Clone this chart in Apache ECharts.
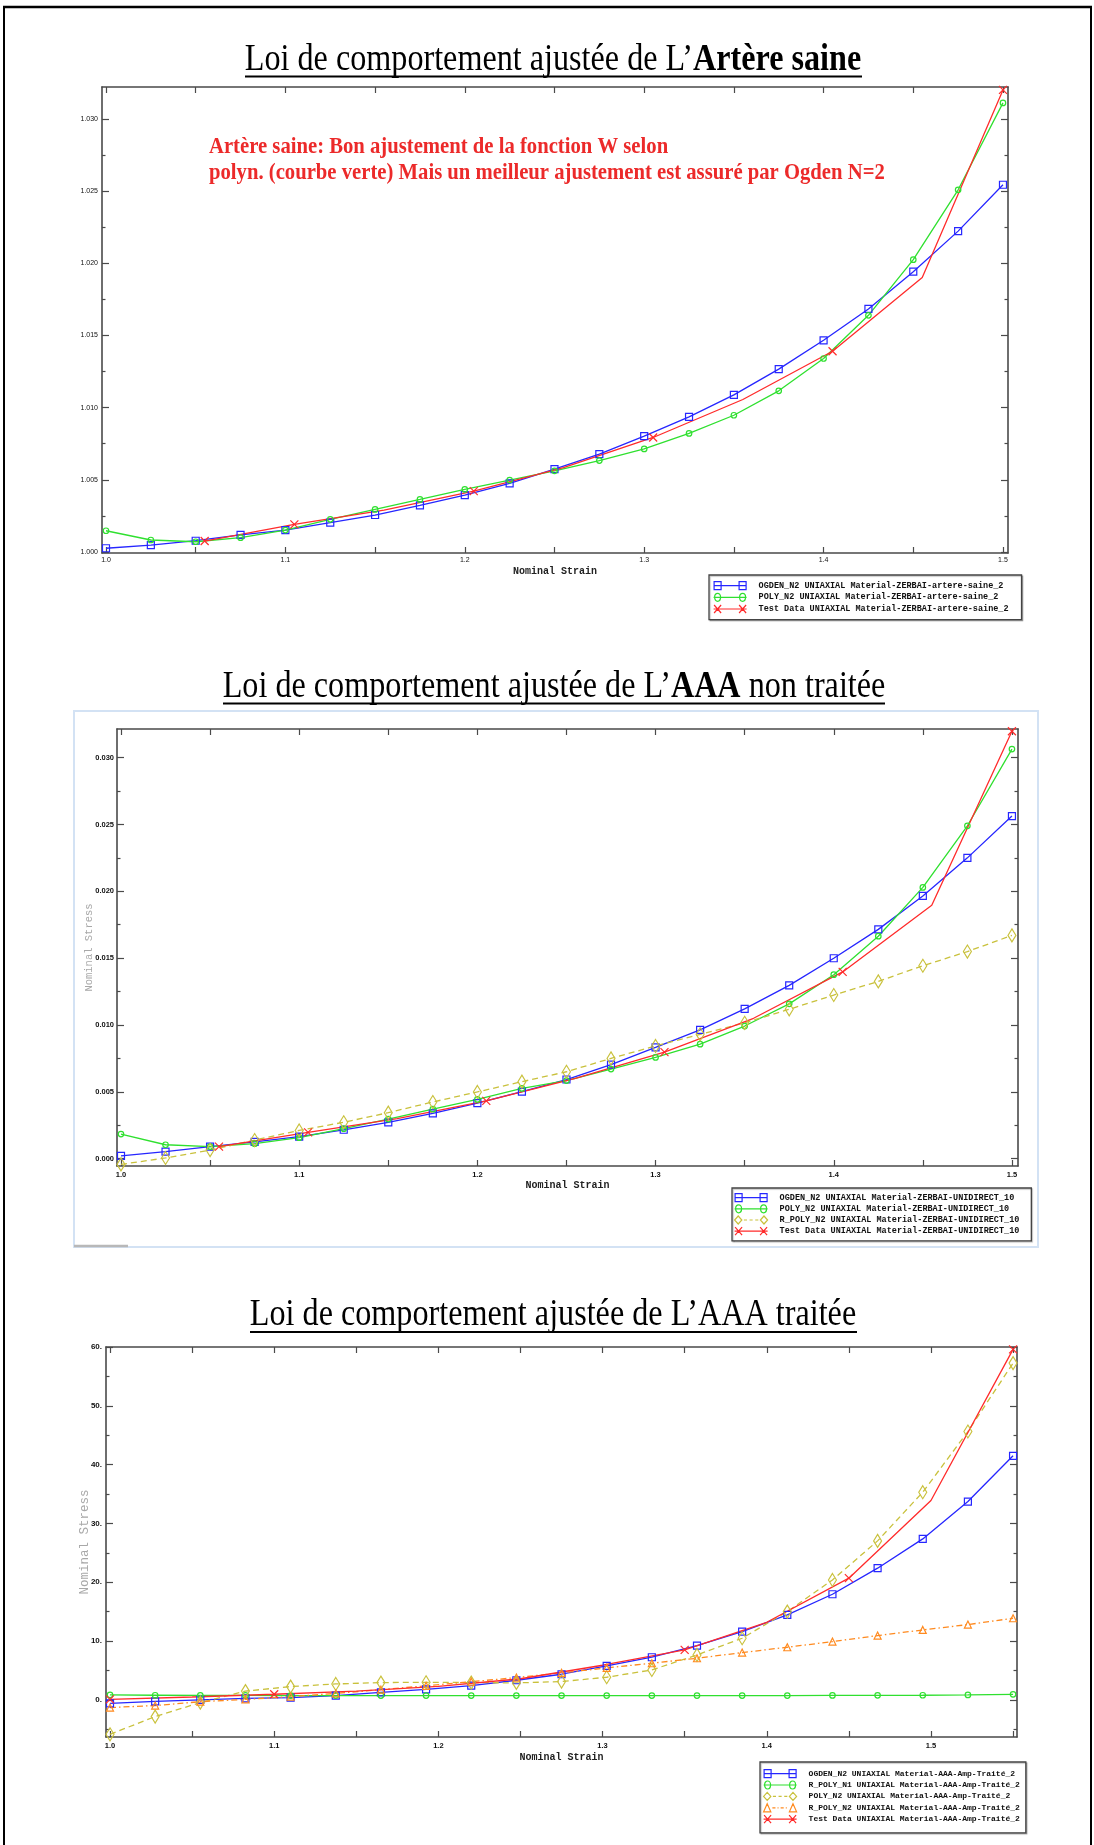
<!DOCTYPE html>
<html>
<head>
<meta charset="utf-8">
<script src="https://cdn.jsdelivr.net/npm/echarts@6/dist/echarts.min.js"></script>
<style>
  html, body { margin: 0; padding: 0; background: #fff; }
  #chart { width: 1094px; height: 1845px; }
</style>
</head>
<body>
<div id="chart"></div>
<script>
// ---------- strain samples ----------
const strainModel = [1.000, 1.025, 1.050, 1.075, 1.100, 1.125, 1.150, 1.175, 1.200, 1.225, 1.250,
                     1.275, 1.300, 1.325, 1.350, 1.375, 1.400, 1.425, 1.450, 1.475, 1.500];
const strainTest = [1.055, 1.105, 1.155, 1.205, 1.255, 1.305, 1.355, 1.405, 1.455, 1.500];
const strainTreated = [1.0000, 1.0275, 1.0550, 1.0825, 1.1100, 1.1375, 1.1650, 1.1925, 1.2200, 1.2475, 1.2750,
                       1.3025, 1.3300, 1.3575, 1.3850, 1.4125, 1.4400, 1.4675, 1.4950, 1.5225, 1.5500];
const strainTreatedTest = [1.00, 1.05, 1.10, 1.15, 1.20, 1.25, 1.30, 1.35, 1.40, 1.45, 1.50, 1.55];

// ---------- Artère saine ----------
const saineOgden = [0.00026, 0.00048, 0.00078, 0.00118, 0.00152, 0.00203, 0.00256, 0.00323, 0.00394, 0.00475, 0.00574,
                    0.00678, 0.00802, 0.00936, 0.01088, 0.01266, 0.01466, 0.01683, 0.01941, 0.02222, 0.02543];
const sainePoly = [0.00147, 0.00083, 0.00071, 0.00099, 0.00152, 0.00226, 0.00295, 0.00364, 0.00434, 0.00498, 0.00562,
                   0.00633, 0.00714, 0.00821, 0.00947, 0.01116, 0.01340, 0.01639, 0.02024, 0.02508, 0.03110];
const saineTest = [0.00076, 0.00191, 0.00290, 0.00422, 0.00585, 0.00793, 0.01056, 0.01390, 0.01900, 0.03200];
const saineTestMarks = [0, 1, 3, 5, 7, 9];

// ---------- AAA non traitée ----------
const nonTraiteeOgden = [0.00021, 0.00053, 0.00090, 0.00125, 0.00165, 0.00216, 0.00272, 0.00339, 0.00416, 0.00501, 0.00592,
                         0.00704, 0.00832, 0.00963, 0.01120, 0.01296, 0.01499, 0.01715, 0.01965, 0.02250, 0.02563];
const nonTraiteePoly = [0.00184, 0.00104, 0.00090, 0.00112, 0.00157, 0.00224, 0.00296, 0.00370, 0.00443, 0.00525, 0.00584,
                        0.00670, 0.00757, 0.00856, 0.00992, 0.01158, 0.01376, 0.01664, 0.02029, 0.02490, 0.03064];
const nonTraiteeRPoly = [-0.00043, 0.00005, 0.00064, 0.00139, 0.00211, 0.00272, 0.00344, 0.00424, 0.00499, 0.00576, 0.00650,
                         0.00750, 0.00843, 0.00930, 0.01016, 0.01117, 0.01224, 0.01326, 0.01443, 0.01549, 0.01670];
const nonTraiteeTest = [0.00090, 0.00197, 0.00300, 0.00432, 0.00600, 0.00797, 0.01050, 0.01397, 0.01896, 0.03197];
const nonTraiteeTestMarks = [0, 1, 3, 5, 7, 9];

// ---------- AAA traitée ----------
const traiteeOgden = [-0.57, -0.25, 0.00, 0.25, 0.40, 0.74, 1.30, 1.81, 2.44, 3.35, 4.37,
                      5.78, 7.26, 9.24, 11.62, 14.46, 17.97, 22.40, 27.38, 33.73, 41.50];
const traiteeRPolyN1 = [0.85, 0.80, 0.78, 0.76, 0.75, 0.74, 0.74, 0.74, 0.74, 0.74, 0.74,
                        0.74, 0.74, 0.74, 0.74, 0.75, 0.76, 0.78, 0.80, 0.86, 0.96];
const traiteePolyN2 = [-5.84, -2.83, -0.45, 1.50, 2.27, 2.72, 2.95, 3.00, 2.95, 2.90, 3.12,
                       3.86, 5.10, 7.65, 10.49, 15.02, 20.40, 27.04, 35.32, 45.63, 57.26];
const traiteeRPolyN2 = [-1.30, -0.95, -0.30, 0.10, 0.55, 1.10, 1.75, 2.40, 3.10, 3.80, 4.60,
                        5.45, 6.24, 7.09, 8.05, 8.96, 9.92, 10.94, 11.90, 12.81, 13.89];
const traiteeTest = [0.10, 0.50, 0.97, 1.50, 2.30, 3.60, 5.90, 8.50, 13.20, 20.70, 33.90, 59.60];
const traiteeTestMarks = [0, 2, 7, 9, 11];

// ---------- ticks and tick labels ----------
const strainTicks = [1.00, 1.05, 1.10, 1.15, 1.20, 1.25, 1.30, 1.35, 1.40, 1.45, 1.50];
const strainTicksTreated = [1.00, 1.05, 1.10, 1.15, 1.20, 1.25, 1.30, 1.35, 1.40, 1.45, 1.50, 1.55];
const strainLabelValues = [1.0, 1.1, 1.2, 1.3, 1.4, 1.5];
const strainLabels = ['1.0', '1.1', '1.2', '1.3', '1.4', '1.5'];

const smallStressMajor = [0, 0.005, 0.010, 0.015, 0.020, 0.025, 0.030];
const smallStressMinor = [0.0025, 0.0075, 0.0125, 0.0175, 0.0225, 0.0275];
const saineStressLabels = ['1.000', '1.005', '1.010', '1.015', '1.020', '1.025', '1.030'];
const nonTraiteeStressLabels = ['0.000', '0.005', '0.010', '0.015', '0.020', '0.025', '0.030'];

const treatedStressMajor = [0, 10, 20, 30, 40, 50, 60];
const treatedStressMinor = [-5, 5, 15, 25, 35, 45, 55];
const treatedStressLabels = ['0.', '10.', '20.', '30.', '40.', '50.', '60.'];

// ---------- legend names ----------
const saineNames = [
  'OGDEN_N2 UNIAXIAL Material-ZERBAI-artere-saine_2',
  'POLY_N2 UNIAXIAL Material-ZERBAI-artere-saine_2',
  'Test Data UNIAXIAL Material-ZERBAI-artere-saine_2'
];
const nonTraiteeNames = [
  'OGDEN_N2 UNIAXIAL Material-ZERBAI-UNIDIRECT_10',
  'POLY_N2 UNIAXIAL Material-ZERBAI-UNIDIRECT_10',
  'R_POLY_N2 UNIAXIAL Material-ZERBAI-UNIDIRECT_10',
  'Test Data UNIAXIAL Material-ZERBAI-UNIDIRECT_10'
];
const traiteeNames = [
  'OGDEN_N2 UNIAXIAL Material-AAA-Amp-Traité_2',
  'R_POLY_N1 UNIAXIAL Material-AAA-Amp-Traité_2',
  'POLY_N2 UNIAXIAL Material-AAA-Amp-Traité_2',
  'R_POLY_N2 UNIAXIAL Material-AAA-Amp-Traité_2',
  'Test Data UNIAXIAL Material-AAA-Amp-Traité_2'
];

// ---------- styling ----------
const C_BLUE = '#2626ff';
const C_GREEN = '#2fe02f';
const C_RED = '#ff2b2b';
const C_YELLOW = '#c9c13c';
const C_ORANGE = '#ff8a1f';
const AXIS_COLOR = '#4a4a4a';
const CROSS = 'path://M0,0L10,10M10,0L0,10';

// legend samples: a line with the marker drawn at both ends
const ICON_RECT = 'path://M0,4H33M0.5,0.5H7.5V7.5H0.5ZM25.5,0.5H32.5V7.5H25.5Z';
const ICON_CIRCLE = 'path://M0,4H33M1,4A3,3 0 1 1 7,4A3,3 0 1 1 1,4ZM26,4A3,3 0 1 1 32,4A3,3 0 1 1 26,4Z';
const ICON_DIAMOND = 'path://M4,0L7.5,4L4,8L0.5,4ZM29,0L32.5,4L29,8L25.5,4ZM9.5,4H12.5M15,4H18M20.5,4H23.5';
const ICON_TRIANGLE = 'path://M4,0.5L7.5,7.5H0.5ZM29,0.5L32.5,7.5H25.5ZM9,4H12M14,4H15M17,4H20M22,4H23';
const ICON_CROSS = 'path://M0,4H33M0.5,0.5L7.5,7.5M7.5,0.5L0.5,7.5M25.5,0.5L32.5,7.5M32.5,0.5L25.5,7.5';

function pairUp(xs, ys) { return xs.map((x, i) => [x, ys[i]]); }

function curve(name, grid, xs, ys, color, symbol, size, dash) {
  return {
    type: 'line', name, xAxisIndex: grid * 2, yAxisIndex: grid * 4,
    data: pairUp(xs, ys),
    symbol, symbolSize: size, showAllSymbol: true,
    lineStyle: { color, width: 1.3, type: dash || 'solid' },
    itemStyle: { color: 'rgba(255,255,255,0)', borderColor: color, borderWidth: 1.2 },
    emphasis: { disabled: true }
  };
}

function testCurve(name, grid, xs, ys, marks) {
  const data = xs.map((x, i) => marks.includes(i) ? [x, ys[i]] : { value: [x, ys[i]], symbol: 'none' });
  return {
    type: 'line', name, xAxisIndex: grid * 2, yAxisIndex: grid * 4,
    data, symbol: CROSS, symbolSize: 8, showAllSymbol: true,
    lineStyle: { color: C_RED, width: 1.3 },
    itemStyle: { color: C_RED, borderColor: C_RED, borderWidth: 1.2 },
    emphasis: { disabled: true }
  };
}

function labelFmt(values, labels) {
  return v => {
    const k = values.findIndex(t => Math.abs(t - v) < 1e-9);
    return k < 0 ? '' : labels[k];
  };
}

function baseAxis(grid, position, min, max) {
  return {
    type: 'value', gridIndex: grid, position, min, max,
    splitLine: { show: false },
    axisLine: { show: true, onZero: false, lineStyle: { color: AXIS_COLOR, width: 1.6 } },
    axisTick: { show: false },
    axisLabel: { show: false }
  };
}

function ticks(values, len) {
  return { show: true, inside: true, length: len, customValues: values, lineStyle: { color: AXIS_COLOR, width: 1.2 } };
}

// two x axes per grid: bottom (labels) and top
function xAxesFor(grid, min, max, tickVals, labelOpt, nameOpt) {
  const bottom = baseAxis(grid, 'bottom', min, max);
  bottom.axisTick = ticks(tickVals, 6);
  bottom.axisLabel = Object.assign({
    show: true, customValues: strainLabelValues,
    formatter: labelFmt(strainLabelValues, strainLabels),
    color: '#111', fontFamily: 'Liberation Sans', fontSize: 7
  }, labelOpt);
  Object.assign(bottom, {
    name: 'Nominal Strain', nameLocation: 'middle', nameMoveOverlap: false,
    nameTextStyle: { fontFamily: 'Liberation Mono', fontWeight: 'bold', fontSize: 10, color: '#222' }
  }, nameOpt);
  const top = baseAxis(grid, 'top', min, max);
  top.axisTick = ticks(tickVals, 6);
  return [bottom, top];
}

// four y axes per grid: left (labels + major), right (major), left minor, right minor
function yAxesFor(grid, min, max, major, minor, labels, labelOpt, nameOpt) {
  const left = baseAxis(grid, 'left', min, max);
  left.axisTick = ticks(major, 7);
  left.axisLabel = Object.assign({
    show: true, customValues: major, formatter: labelFmt(major, labels),
    color: '#111', fontFamily: 'Liberation Sans', fontSize: 7, margin: 4
  }, labelOpt);
  if (nameOpt) Object.assign(left, nameOpt);
  const right = baseAxis(grid, 'right', min, max);
  right.axisTick = ticks(major, 7);
  const leftMinor = baseAxis(grid, 'left', min, max);
  leftMinor.axisLine = { show: false, onZero: false };
  leftMinor.axisTick = ticks(minor, 3.5);
  const rightMinor = baseAxis(grid, 'right', min, max);
  rightMinor.axisLine = { show: false, onZero: false };
  rightMinor.axisTick = ticks(minor, 3.5);
  return [left, right, leftMinor, rightMinor];
}

const stressName = (gap, size) => ({
  name: 'Nominal Stress', nameLocation: 'middle', nameGap: gap, nameRotate: 90, nameMoveOverlap: false,
  nameTextStyle: { fontFamily: 'Liberation Mono', fontSize: size, color: '#a8a8a8' }
});

function legendEntry(name, icon, color) {
  return { name, icon, itemStyle: { color: 'rgba(255,255,255,0)', borderColor: color, borderWidth: 1.2 } };
}

function legendBox(entries, left, top, gap, fontSize, padding) {
  return {
    data: entries, orient: 'vertical', left, top, selectedMode: false,
    itemWidth: 33, itemHeight: 8, itemGap: gap, padding, symbolKeepAspect: false,
    borderColor: '#444', borderWidth: 1.3, backgroundColor: '#fff',
    shadowColor: 'rgba(0,0,0,0.25)', shadowOffsetX: 1, shadowOffsetY: 1, shadowBlur: 1,
    textStyle: { fontFamily: 'Liberation Mono', fontWeight: 'bold', fontSize, color: '#111', padding: [0, 0, 0, 7], lineHeight: fontSize }
  };
}

function titleGraphic(cx, bottomY, parts, sx, sy) {
  const rich = {
    r: { fontFamily: 'Liberation Serif', fontSize: 33, fill: '#000' },
    b: { fontFamily: 'Liberation Serif', fontSize: 33, fontWeight: 'bold', fill: '#000' }
  };
  return {
    type: 'text', x: cx, y: bottomY, scaleX: sx, scaleY: sy, silent: true, z: 10,
    style: {
      text: parts.map(p => '{' + (p[1] ? 'b' : 'r') + '|' + p[0] + '}').join(''),
      rich, align: 'center', verticalAlign: 'bottom'
    }
  };
}

function noteLine(text, x, bottomY) {
  return {
    type: 'text', x, y: bottomY, scaleX: 0.94, scaleY: 1.05, silent: true, z: 10,
    style: { text, fill: '#ec2a2a', fontFamily: 'Liberation Serif', fontWeight: 'bold', fontSize: 22, verticalAlign: 'bottom' }
  };
}

function hLine(x1, x2, y, w, color) {
  return { type: 'line', silent: true, z: 10, shape: { x1, y1: y, x2, y2: y }, style: { stroke: color || '#000', lineWidth: w } };
}
function vLine(x, y1, y2, w, color) {
  return { type: 'line', silent: true, z: 10, shape: { x1: x, y1, x2: x, y2 }, style: { stroke: color || '#000', lineWidth: w } };
}

const chart = echarts.init(document.getElementById('chart'), null, { renderer: 'canvas' });

const option = {
  animation: false,
  backgroundColor: '#fff',
  grid: [
    { left: 102, top: 87, width: 906, height: 466 },
    { left: 117, top: 729, width: 901, height: 437 },
    { left: 106, top: 1347, width: 911, height: 390 }
  ],
  xAxis: [
    ...xAxesFor(0, 0.99777, 1.5028, strainTicks, { margin: 4 }, { nameGap: 13 }),
    ...xAxesFor(1, 0.99776, 1.5034, strainTicks, { margin: 5, fontSize: 7.5, fontWeight: 'bold' }, { nameGap: 14 }),
    ...xAxesFor(2, 0.99756, 1.5524, strainTicksTreated, { margin: 5, fontSize: 7.5, fontWeight: 'bold' }, { nameGap: 15 })
  ],
  yAxis: [
    ...yAxesFor(0, -0.00007, 0.0322, smallStressMajor, smallStressMinor, saineStressLabels, {}, null),
    ...yAxesFor(1, -0.00055, 0.03214, smallStressMajor, smallStressMinor, nonTraiteeStressLabels,
                { fontSize: 7.5, margin: 3, fontWeight: 'bold' }, stressName(22, 10.5)),
    ...yAxesFor(2, -6.3, 60, treatedStressMajor, treatedStressMinor, treatedStressLabels,
                { fontSize: 8, margin: 4, fontWeight: 'bold' }, stressName(15, 12.5))
  ],
  legend: [
    legendBox([
      legendEntry(saineNames[0], ICON_RECT, C_BLUE),
      legendEntry(saineNames[1], ICON_CIRCLE, C_GREEN),
      legendEntry(saineNames[2], ICON_CROSS, C_RED)
    ], 709, 575, 2.5, 8.5, [6, 13, 6, 4]),
    legendBox([
      legendEntry(nonTraiteeNames[0], ICON_RECT, C_BLUE),
      legendEntry(nonTraiteeNames[1], ICON_CIRCLE, C_GREEN),
      legendEntry(nonTraiteeNames[2], ICON_DIAMOND, C_YELLOW),
      legendEntry(nonTraiteeNames[3], ICON_CROSS, C_RED)
    ], 732, 1188, 2, 8.5, [5, 12, 5, 2]),
    legendBox([
      legendEntry(traiteeNames[0], ICON_RECT, C_BLUE),
      legendEntry(traiteeNames[1], ICON_CIRCLE, C_GREEN),
      legendEntry(traiteeNames[2], ICON_DIAMOND, C_YELLOW),
      legendEntry(traiteeNames[3], ICON_TRIANGLE, C_ORANGE),
      legendEntry(traiteeNames[4], ICON_CROSS, C_RED)
    ], 760, 1762, 2.2, 8, [7, 6, 9, 3])
  ],
  series: [
    curve(saineNames[0], 0, strainModel, saineOgden, C_BLUE, 'rect', 7),
    curve(saineNames[1], 0, strainModel, sainePoly, C_GREEN, 'circle', 5.5),
    testCurve(saineNames[2], 0, strainTest, saineTest, saineTestMarks),

    curve(nonTraiteeNames[0], 1, strainModel, nonTraiteeOgden, C_BLUE, 'rect', 7),
    curve(nonTraiteeNames[1], 1, strainModel, nonTraiteePoly, C_GREEN, 'circle', 5.5),
    curve(nonTraiteeNames[2], 1, strainModel, nonTraiteeRPoly, C_YELLOW, 'diamond', [8, 13], [6, 4]),
    testCurve(nonTraiteeNames[3], 1, strainTest, nonTraiteeTest, nonTraiteeTestMarks),

    curve(traiteeNames[0], 2, strainTreated, traiteeOgden, C_BLUE, 'rect', 7),
    curve(traiteeNames[1], 2, strainTreated, traiteeRPolyN1, C_GREEN, 'circle', 5.5),
    curve(traiteeNames[2], 2, strainTreated, traiteePolyN2, C_YELLOW, 'diamond', [8, 13], [6, 4]),
    curve(traiteeNames[3], 2, strainTreated, traiteeRPolyN2, C_ORANGE, 'triangle', 7, [6, 3, 1.5, 3]),
    testCurve(traiteeNames[4], 2, strainTreatedTest, traiteeTest, traiteeTestMarks)
  ],
  graphic: [
    // page frame
    hLine(3, 1092, 7, 2.5),
    vLine(4, 6, 1845, 2),
    vLine(1091, 6, 1845, 2),
    // frame around the second figure
    { type: 'rect', silent: true, z: 0, shape: { x: 74, y: 711, width: 964, height: 536 },
      style: { fill: 'none', stroke: '#d3e2f4', lineWidth: 2 } },
    hLine(74, 128, 1246, 2.5, '#b8b8b8'),
    // titles
    titleGraphic(553, 79, [['Loi de comportement ajustée de L’', false], ['Artère saine', true]], 0.975, 1.15),
    hLine(245, 862, 76.5, 2),
    titleGraphic(554, 706, [['Loi de comportement ajustée de L’', false], ['AAA', true], [' non traitée', false]], 0.975, 1.15),
    hLine(223, 885, 703.5, 2),
    titleGraphic(553, 1334, [['Loi de comportement ajustée de L’AAA traitée', false]], 0.975, 1.15),
    hLine(250, 857, 1332, 2),
    // note on the first figure
    noteLine('Artère saine: Bon ajustement de la fonction W selon', 209, 159),
    noteLine('polyn. (courbe verte) Mais un meilleur ajustement est assuré par Ogden N=2', 209, 185)
  ]
};

chart.setOption(option);
</script>
</body>
</html>
